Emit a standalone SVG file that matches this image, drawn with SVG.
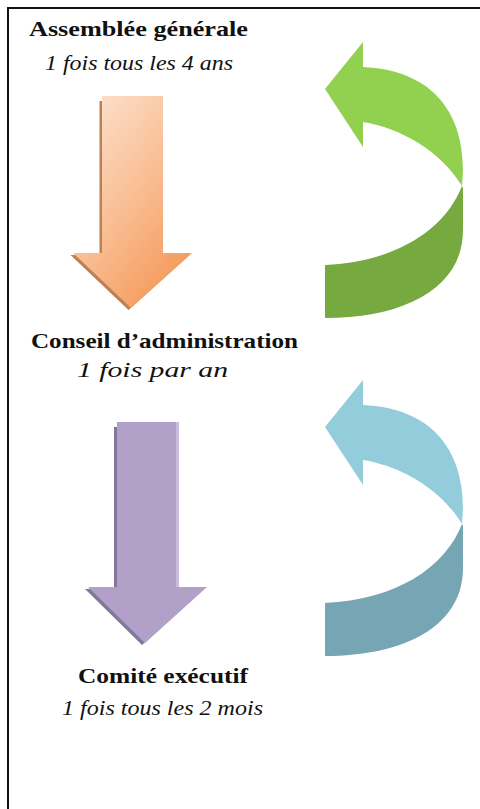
<svg xmlns="http://www.w3.org/2000/svg" width="480" height="809" viewBox="0 0 480 809">
  <defs>
    <linearGradient id="orangeGrad" x1="0" y1="0" x2="0.7" y2="1">
      <stop offset="0" stop-color="#FDE6D4"/>
      <stop offset="0.55" stop-color="#F9BE94"/>
      <stop offset="1" stop-color="#F59A5A"/>
    </linearGradient>
    <style>
      .title { font-family: "Liberation Serif", "DejaVu Serif", serif; font-weight: bold; font-size: 21px; fill: #111; }
      .sub { font-family: "Liberation Serif", "DejaVu Serif", serif; font-style: italic; font-size: 20px; fill: #111; }
      .green-light { fill: #92D050; }
      .green-dark { fill: #76A93F; }
      .blue-light { fill: #93CDDC; }
      .blue-dark { fill: #76A6B4; }
    </style>
  </defs>
  <rect x="0" y="0" width="480" height="809" fill="#ffffff"/>
  <path d="M 8,809 L 8,8 L 480,8" fill="none" stroke="#111" stroke-width="2"/>

  <g id="node-assemblee">
    <text class="title" x="29" y="36" textLength="219" lengthAdjust="spacingAndGlyphs">Assemblée générale</text>
    <text class="sub" x="45" y="70" textLength="188" lengthAdjust="spacingAndGlyphs">1 fois tous les 4 ans</text>
  </g>
  <g id="node-conseil">
    <text class="title" x="31" y="348" textLength="267" lengthAdjust="spacingAndGlyphs">Conseil d’administration</text>
    <text class="sub" x="77" y="377" textLength="151" lengthAdjust="spacingAndGlyphs">1 fois par an</text>
  </g>
  <g id="node-comite">
    <text class="title" x="78" y="683" textLength="170" lengthAdjust="spacingAndGlyphs">Comité exécutif</text>
    <text class="sub" x="62" y="715" textLength="201" lengthAdjust="spacingAndGlyphs">1 fois tous les 2 mois</text>
  </g>

  <g id="connectors">
    <g id="arrow-orange">
      <path d="M 102,99 L 163,99 L 163,253 L 192,253 L 131,308 L 73,253 L 102,253 Z" fill="#B06A36" transform="translate(-2.5,2)" opacity="0.85"/>
      <path d="M 102,96 L 163,96 L 163,253 L 192,253 L 131,308 L 73,253 L 102,253 Z" fill="url(#orangeGrad)"/>
    </g>
    <g id="arrow-purple">
      <path d="M 117,425 L 179,425 L 179,587 L 207,587 L 145,643 L 88,587 L 117,587 Z" fill="#6F5E8C" transform="translate(-3,2)" opacity="0.85"/>
      <path d="M 117,422 L 179,422 L 179,587 L 207,587 L 145,643 L 88,587 L 117,587 Z" fill="#B1A0C7"/>
      <rect x="176" y="422" width="3" height="165" fill="#CBBCDD"/>
    </g>
    <g id="curve-green">
      <path class="green-dark" d="M 462,186 L 463,188 L 463,230 C 463,288 405,318 325,318 L 325,265 C 395,262 445,230 462,186 Z"/>
      <path class="green-light" d="M 363,42 L 325,89 L 363,147 L 363,122 C 400,128 440,150 462,186 L 463,170 C 463,110 430,70 363,67 Z"/>
    </g>
    <g id="curve-blue" transform="translate(0,338)">
      <path class="blue-dark" d="M 462,186 L 463,188 L 463,230 C 463,288 405,318 325,318 L 325,265 C 395,262 445,230 462,186 Z"/>
      <path class="blue-light" d="M 363,42 L 325,89 L 363,147 L 363,122 C 400,128 440,150 462,186 L 463,170 C 463,110 430,70 363,67 Z"/>
    </g>
  </g>
</svg>
